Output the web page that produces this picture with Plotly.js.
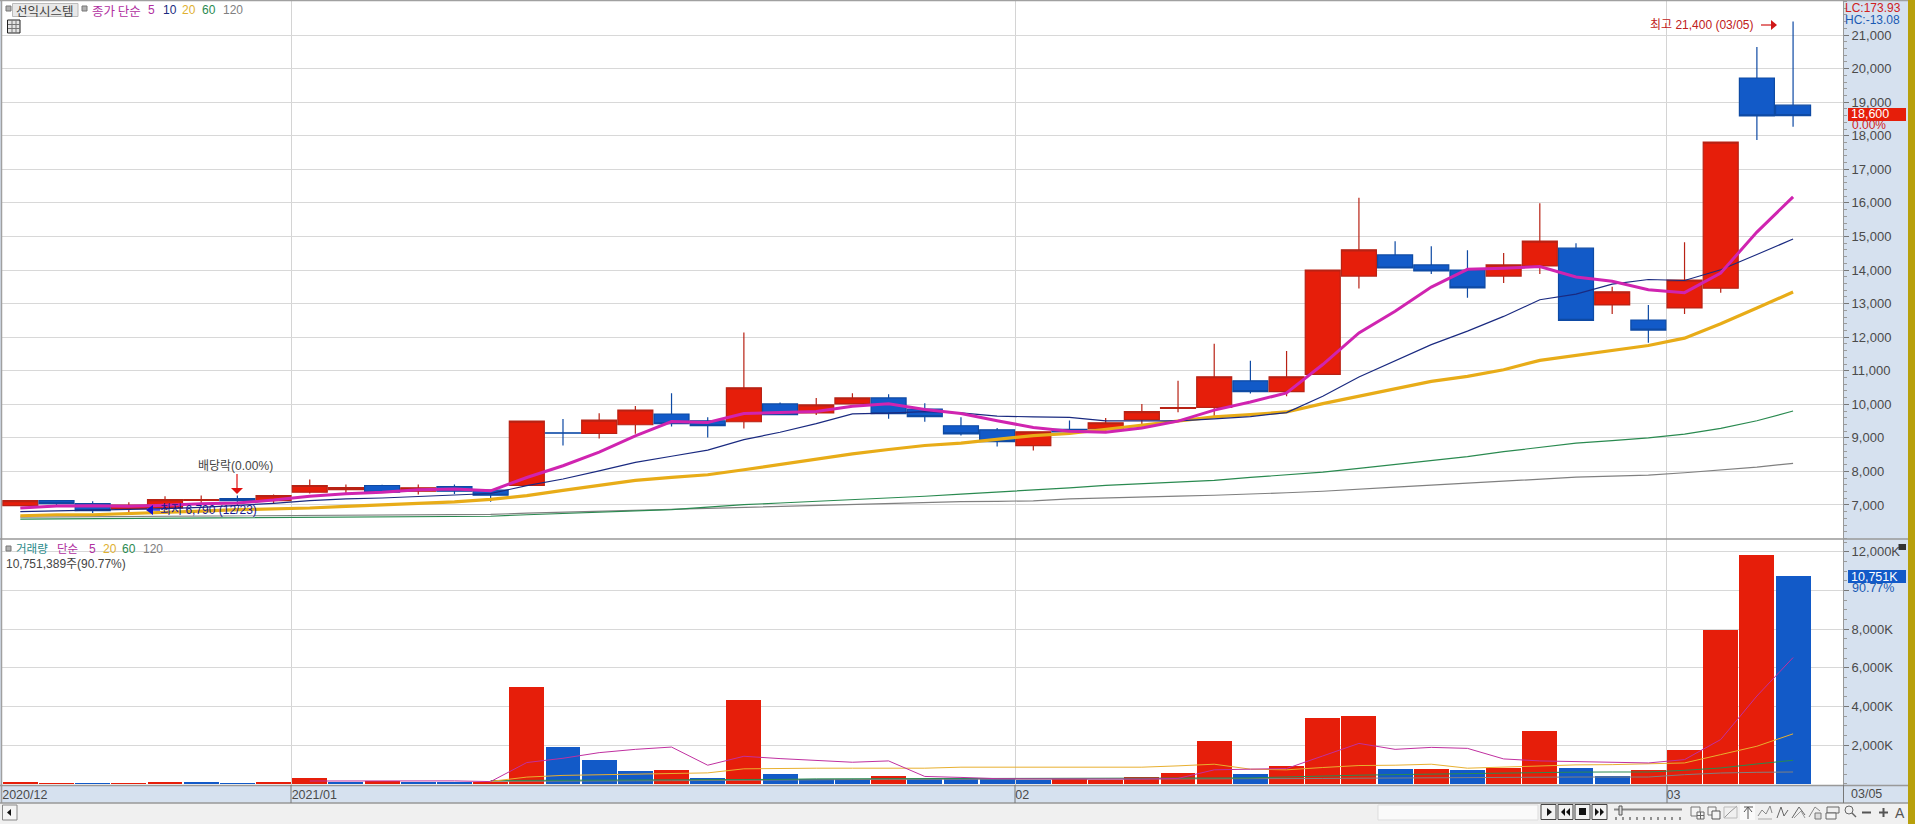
<!DOCTYPE html>
<html><head><meta charset="utf-8">
<script src="https://cdn.plot.ly/plotly-3.0.1.min.js"></script>
<style>html,body{margin:0;padding:0;background:#d6e1ef;overflow:hidden}#c{width:1915px;height:824px}</style>
</head><body><div id="c"></div>
<script>
const sessions=[0,1,2,3,4,5,6,7,8,9,10,11,12,13,14,15,16,17,18,19,20,21,22,23,24,25,26,27,28,29,30,31,32,33,34,35,36,37,38,39,40,41,42,43,44,45,46,47,48,49];
const openP=[6980,7130,7040,6890,6910,7140,7190,7130,7380,7460,7580,7410,7550,7440,7580,9150,9130,9390,9710,9510,9480,10010,9740,10010,10190,9860,9360,9240,8770,9250,9270,9540,9880,9910,10700,10380,10890,13820,14450,14150,14000,13820,14120,14650,12960,12510,12870,13460,19720,18910];
const highP=[7130,7130,7110,7080,7260,7280,7280,7310,7760,7610,7600,7610,7610,7460,9500,9560,9730,9950,10330,9610,12140,10050,10190,10330,10300,10030,9610,9290,9180,9515,9590,10010,10700,11800,11300,11590,14000,16150,14860,14710,14590,14510,15990,14800,13500,12960,14830,17810,20640,21400];
const lowP=[6960,6940,6760,6790,6850,7000,7000,7060,7340,7310,7370,7310,7330,7100,7580,8770,8980,9120,9340,9010,9280,9690,9680,10010,9570,9480,9070,8740,8620,9180,9200,9330,9760,9620,10320,10240,10890,13450,14060,13880,13170,13610,13880,12500,12690,11830,12690,13320,17870,18270];
const closeP=[7130,7040,6830,7000,7160,7160,7130,7280,7580,7520,7380,7510,7410,7290,9500,9140,9530,9830,9420,9360,10490,9690,9980,10190,9720,9630,9120,8890,9180,9180,9450,9780,9900,10820,10380,10820,14000,14600,14060,13970,13470,14150,14860,12500,13350,12210,13700,17810,18590,18600];
const ma5=[6910,6970,6980,6960,6990,7038,7056,7146,7262,7334,7378,7454,7480,7422,7818,8170,8574,9058,9484,9456,9726,9758,9788,9942,10014,9842,9728,9510,9308,9200,9164,9296,9498,9826,10066,10340,11184,12124,12772,13490,14020,14050,14102,13790,13666,13414,13324,13912,15130,16180];
const ma10=[6800,6820,6840,6850,6890,6930,6980,7050,7130,7183,7208,7255,7313,7342,7576,7774,8014,8269,8453,8637,8948,9166,9423,9713,9735,9784,9743,9649,9625,9607,9503,9512,9504,9567,9633,9752,10240,10811,11299,11778,12180,12617,13113,13281,13578,13717,13687,14007,14460,14923];
const ma20=[6680,6710,6710,6740,6780,6820,6860,6880,6910,6960,7000,7040,7090,7170,7277,7436,7574,7733,7822,7900,8049,8208,8366,8525,8653,8772,8841,8960,9069,9129,9248,9386,9495,9624,9693,9772,10020,10238,10455,10683,10832,11030,11307,11455,11610,11750,11970,12400,12870,13345];
const ma60=[6580,6585,6590,6600,6610,6615,6620,6625,6630,6635,6640,6650,6655,6665,6710,6750,6780,6820,6860,6935,7010,7060,7110,7155,7200,7260,7325,7380,7435,7510,7585,7635,7685,7735,7820,7900,7980,8090,8200,8310,8440,8590,8720,8840,8920,9000,9110,9280,9510,9800];
const ma120=[6640,6645,6650,6655,6660,6665,6670,6675,6680,6685,6690,6695,6705,6720,6755,6785,6810,6840,6865,6895,6920,6945,6975,7015,7050,7085,7100,7110,7125,7180,7215,7240,7265,7290,7320,7365,7410,7460,7530,7590,7650,7710,7770,7830,7860,7890,7960,8040,8130,8240];
const volumeK=[100,60,50,60,80,70,60,80,270,110,120,100,90,110,4995,1897,1230,667,718,308,4350,513,240,240,410,240,290,240,170,240,205,325,564,2205,513,923,3385,3487,760,770,718,820,2718,820,415,693,1766,7965,11844,10751];
const volumeUp=[1,1,0,1,1,0,0,1,1,0,1,0,0,1,1,0,0,0,1,0,1,0,0,0,1,0,0,0,0,1,1,1,1,1,0,1,1,1,0,1,0,1,1,0,0,1,1,1,1,0];
const volMa5=[null,null,null,null,null,null,null,null,140,145,150,150,145,110,1094,1316,1607,1778,1897,957,1419,1299,1197,1111,1179,376,325,260,250,240,240,240,273,718,752,786,1436,2085,1778,1880,1829,1282,1179,1145,1074,1074,1247,2286,4537,6528];
const volMa20=[null,null,null,null,null,null,null,null,null,null,null,null,null,120,342,430,462,490,540,560,769,803,803,803,803,803,855,855,855,855,855,855,923,1009,752,718,838,940,957,1009,803,855,940,974,987,1022,1074,1506,1939,2580];
const volMa60=[null,null,null,null,null,null,null,null,null,null,null,null,null,165,170,172,175,178,180,185,200,225,250,265,273,273,273,273,273,273,273,273,273,273,300,350,410,440,470,496,540,581,590,600,606,606,693,814,1022,1212];
const volMa120=[null,null,null,null,null,null,null,null,null,null,null,null,null,120,137,140,145,150,155,160,170,185,200,215,225,235,240,240,240,240,240,240,240,240,245,255,270,285,300,320,335,346,346,346,346,346,467,554,589,606];
const monthTicks=[-0.5,7.5,27.5,45.5];
const monthLabels=['2020/12','2021/01','02','03'];
const priceTicks=[7000,8000,9000,10000,11000,12000,13000,14000,15000,16000,17000,18000,19000,20000,21000];
const volTicks=[2000,4000,6000,8000,10000,12000];
const volLabels=['2,000K','4,000K','6,000K','8,000K','','12,000K'];

const RED='#e61e0a',BLUE='#125ac8',WICKR='#b82214',WICKB='#0e4aa4';
const LAT='"Liberation Sans Narrow","Liberation Sans","Noto Sans CJK KR",sans-serif';
const KOR='"Noto Sans CJK KR",sans-serif';
const TXT='#4a4a4a';
const px=x=>(x-2)/1841, py=y=>(785-y)/784;
const ln=(x0,y0,x1,y1,c,w)=>({type:'line',xref:'paper',yref:'paper',x0:px(x0),y0:py(y0),x1:px(x1),y1:py(y1),line:{color:c||'#999',width:w||1}});
const rc=(x0,y0,x1,y1,f,c)=>({type:'rect',xref:'paper',yref:'paper',x0:px(x0),y0:py(y0),x1:px(x1),y1:py(y1),fillcolor:f,line:{color:c||f,width:c?1:0}});
const pl=(pts,c,w)=>({type:'path',xref:'paper',yref:'paper',path:'M'+pts.map(p=>px(p[0])+','+py(p[1])).join('L'),line:{color:c||'#666',width:w||1}});
const tri=(pts,f)=>({type:'path',xref:'paper',yref:'paper',path:'M'+pts.map(p=>px(p[0])+','+py(p[1])).join('L')+'Z',fillcolor:f,line:{color:f,width:0}});
const tx=(x,y,t,c,s,fam)=>({xref:'paper',yref:'paper',x:px(x),y:py(y),text:t,showarrow:false,xanchor:'left',yanchor:'middle',font:{family:fam||LAT,size:s||12,color:c||TXT},borderpad:0,borderwidth:0});

const lineTrace=(x,y,c,w,ya)=>({type:'scatter',mode:'lines',x:x,y:y,yaxis:ya,line:{color:c,width:w},hoverinfo:'skip',connectgaps:false});
const traces=[
 lineTrace(sessions,ma120,'#808080',1.2,'y'),
 lineTrace(sessions,ma60,'#2a8a50',1.2,'y'),
 lineTrace(sessions,ma20,'#e8ac18',3.2,'y'),
 lineTrace(sessions,ma10,'#1a2a80',1.2,'y'),
 lineTrace(sessions,ma5,'#d024b0',3,'y'),
 {type:'candlestick',x:sessions,open:openP,high:highP,low:lowP,close:closeP,yaxis:'y',whiskerwidth:0,
  increasing:{line:{color:WICKR,width:1.2},fillcolor:RED},decreasing:{line:{color:WICKB,width:1.2},fillcolor:BLUE},hoverinfo:'skip'},
 {type:'bar',x:sessions,y:volumeK,yaxis:'y2',width:0.965,marker:{color:volumeUp.map(u=>u?RED:BLUE),line:{width:0}},hoverinfo:'skip'},
 lineTrace(sessions,volMa120,'#808080',1,'y2'),
 lineTrace(sessions,volMa60,'#2a8a50',1,'y2'),
 lineTrace(sessions,volMa20,'#e8b030',1,'y2'),
 lineTrace(sessions,volMa5,'#c030a0',1,'y2')
];

const shapes=[
 rc(0,803,1908,824,'#f0f0f0'),
 rc(1908,0,1915,824,'#b8a00c'),
 ln(0,0.5,1908,0.5,'#a0a0a0',1.5), ln(1.5,0,1.5,803,'#a0a0a0',1.5),
 ln(0,539,1908,539,'#999',1.5), ln(0,785.5,1908,785.5,'#999',1.5), ln(0,803,1908,803,'#999',1.5),
 ln(1843.5,0,1843.5,803,'#999',1), ln(1843.5,785,1843.5,803,'#777',1),
 ln(291,785,291,803,'#777',1), ln(1015,785,1015,803,'#777',1), ln(1667,785,1667,803,'#777',1),
 rc(6,6,11,11,'#b0b0b0','#777'), rc(12.5,3.5,78,16.5,'#e8e8e8','#bbb'), rc(82,6,87,11,'#b0b0b0','#777'),
 rc(7.5,20,20,33,'#e4e4e4','#222'), ln(8,24.5,20,24.5,'#777'), ln(8,28.5,20,28.5,'#777'), ln(12,20,12,33,'#777'), ln(16,20,16,33,'#777'),
 rc(6,546,11,551,'#b0b0b0','#777'),
 rc(1898.5,544,1906,550,'#333'),
 rc(1848,108,1906,121,RED), rc(1848,570,1906,583,BLUE),
 ln(237,474,237,488,'#e01010',1.2), tri([[231,488],[243,488],[237,494]],'#e01010'),
 ln(1761,25,1771,25,'#d01818',1.2), tri([[1771,20],[1771,30],[1777,25]],'#d01818'),
 ln(153,510,160,510,'#1010d0',1.2), tri([[153,505],[153,515],[146,510]],'#1010d0'),
 rc(2.5,805,17,820,'#f4f4f4','#888'), tri([[11,809],[11,816],[7,812.5]],'#111'),
 rc(1378,805,1538,820,'#fafafa','#ddd'),
 rc(1541,804.5,1556,819.5,'#f2f2f2','#444'), rc(1558,804.5,1573,819.5,'#f2f2f2','#444'), rc(1575,804.5,1590,819.5,'#f2f2f2','#444'), rc(1592,804.5,1607,819.5,'#f2f2f2','#444'),
 tri([[1547,808],[1547,816],[1552,812]],'#111'),
 tri([[1565,808],[1565,816],[1561,812]],'#111'), tri([[1570,808],[1570,816],[1566,812]],'#111'),
 rc(1579,808,1586,815,'#111'),
 tri([[1595,808],[1595,816],[1599,812]],'#111'), tri([[1600,808],[1600,816],[1604,812]],'#111'),
 ln(1614,809.5,1682,809.5,'#888',2), rc(1619,806,1622,815,'#ddd','#555'),
 ...[1616,1623,1630,1637,1644,1651,1658,1665,1672,1680].map(x=>ln(x,817,x,820,'#333')),
 rc(1691,807,1700,816,'#f4f4f4','#777'), rc(1697,812,1704,819,'#f4f4f4','#666'), ln(1700.5,812,1700.5,819,'#666'), ln(1697,815.5,1704,815.5,'#666'),
 rc(1708,807,1716,815,'#f4f4f4','#777'), rc(1712,811,1720,819,'#f4f4f4','#555'),
 pl([[1724,818],[1730,812],[1737,806]],'#999'), rc(1724,807,1737,818,'rgba(0,0,0,0)','#bbb'),
 rc(1740,804,1755,820,'#fafafa'), pl([[1744,807],[1753,807]],'#555'), pl([[1748,807],[1748,819]],'#555'), pl([[1744,812],[1748,807],[1752,812]],'#555'),
 pl([[1758,816],[1762,810],[1766,814],[1770,806],[1772,813]],'#888'), pl([[1758,819],[1772,819]],'#aaa'),
 pl([[1777,818],[1781,807],[1784,816],[1788,810]],'#666'),
 pl([[1792,818],[1799,807],[1805,815]],'#666'), pl([[1794,818],[1801,811],[1805,818]],'#999'),
 pl([[1809,817],[1815,807],[1820,811]],'#888'), rc(1815,813,1821,819,'#ddd','#777'),
 rc(1827,807,1839,813,'#eee','#666'), rc(1826,813,1836,819,'#f4f4f4','#666'),
 {type:'circle',xref:'paper',yref:'paper',x0:px(1845),y0:py(806),x1:px(1853),y1:py(814),line:{color:'#666',width:1}}, ln(1852,813,1856,817,'#666',1.5),
 ln(1862,812.5,1871,812.5,'#555',2), ln(1879,812.5,1888,812.5,'#555',2), ln(1883.5,808,1883.5,817,'#555',2)
];

const annotations=[
 tx(16,10,'선익시스템','#444',12.5,KOR),
 tx(92,10,'종가 단순','#b030a0',12.5,KOR), tx(148,10,'5','#b030a0',12), tx(163,10,'10','#1a2a80',12), tx(182,10,'20','#e0b030',12), tx(202,10,'60','#2a8a50',12), tx(223,10,'120','#808080',12),
 tx(16,548,'거래량','#2a8a8a',11.5,KOR), tx(57,548,'단순','#b030a0',11.5,KOR), tx(89,548.5,'5','#b030a0',12), tx(103,548.5,'20','#e0b030',12), tx(122,548.5,'60','#2a8a50',12), tx(143,548.5,'120','#808080',12),
 tx(6,564,'10,751,389주(90.77%)','#444',12),
 tx(1845,8,'LC:173.93','#d02020',12), tx(1845,20,'HC:-13.08','#1a5ab4',12),
 tx(1851,114.5,'18,600','#ffffff',12.5), tx(1852,125,'0.00%','#d02020',12),
 tx(1851,576.5,'10,751K','#ffffff',12.5), tx(1852,588,'90.77%','#1a5ab4',12.5),
 tx(1851,794,'03/05','#4a4a4a',12.5),
 tx(198,466,'배당락(0.00%)','#444',12),
 tx(160,510,'최저 6,790 (12/23)','#1a1a90',12),
 tx(1650,25,'최고 21,400 (03/05)','#c02020',12),
 tx(1895,812.5,'A','#555',14,'"Liberation Sans",sans-serif')
];

const layout={
 width:1915,height:824,margin:{l:2,r:72,t:1,b:39,pad:0},
 paper_bgcolor:'#d6e1ef',plot_bgcolor:'#ffffff',showlegend:false,dragmode:false,hovermode:false,
 boxgap:0.033,boxgroupgap:0,bargap:0,
 xaxis:{range:[-0.506,50.38],anchor:'y2',tickmode:'array',tickvals:monthTicks,ticktext:monthLabels,ticks:'',ticklabelposition:'outside right',
  tickfont:{family:LAT,size:12.5,color:TXT},showgrid:true,gridcolor:'#d4d4d4',gridwidth:1,zeroline:false,showline:false,rangeslider:{visible:false},fixedrange:true},
 yaxis:{domain:[py(539),1],range:[5987,22013],side:'right',anchor:'x',tickmode:'array',tickvals:priceTicks,tickformat:',d',ticks:'outside',ticklen:5,tickcolor:'#777',tickwidth:1,
  tickfont:{family:LAT,size:13,color:TXT},showgrid:true,gridcolor:'#d8d8d8',gridwidth:1,zeroline:false,showline:false,fixedrange:true,
  minor:{dtick:200,ticks:'outside',ticklen:3,tickcolor:'#9a9a9a',tickwidth:1,showgrid:false}},
 yaxis2:{domain:[0,py(539)],range:[-67,12663],side:'right',anchor:'x',tickmode:'array',tickvals:volTicks,ticktext:volLabels,ticks:'outside',ticklen:5,tickcolor:'#777',tickwidth:1,
  tickfont:{family:LAT,size:13,color:TXT},showgrid:true,gridcolor:'#d8d8d8',gridwidth:1,zeroline:false,showline:false,fixedrange:true,
  minor:{dtick:500,ticks:'outside',ticklen:3,tickcolor:'#9a9a9a',tickwidth:1,showgrid:false}},
 shapes:shapes,annotations:annotations
};
Plotly.newPlot('c',traces,layout,{staticPlot:true,displayModeBar:false});
</script></body></html>
